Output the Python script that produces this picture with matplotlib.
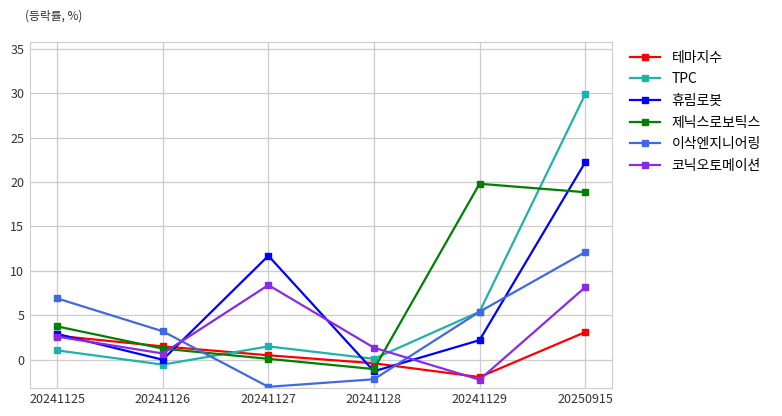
import matplotlib.pyplot as plt

plt.rcParams['font.family'] = ['Noto Sans CJK KR', 'DejaVu Sans']

# data
dates = ['20241125', '20241126', '20241127', '20241128', '20241129', '20250915']
theme = [2.7, 1.5, 0.5, -0.4, -1.95, 3.1]
tpc = [1.05, -0.55, 1.5, 0.1, 5.4, 29.85]
hurim = [2.9, 0.0, 11.7, -1.3, 2.2, 22.2]
zenix = [3.75, 1.25, 0.1, -1.05, 19.8, 18.85]
isak = [6.9, 3.2, -3.05, -2.2, 5.4, 12.1]
konic = [2.6, 0.7, 8.4, 1.35, -2.25, 8.15]

names = ['테마지수', 'TPC', '휴림로봇', '제닉스로보틱스', '이삭엔지니어링', '코닉오토메이션']
series = [theme, tpc, hurim, zenix, isak, konic]
colors = ['red', 'lightseagreen', 'blue', 'green', 'royalblue', 'blueviolet']

fig, ax = plt.subplots(figsize=(7.82, 4.16), dpi=100)
fig.subplots_adjust(left=0.038, right=0.782, top=0.9, bottom=0.068)

x = range(len(dates))
for name, vals, c in zip(names, series, colors):
    ax.plot(x, vals, color=c, marker='s', markersize=4.5, linewidth=1.6, label=name)

ax.set_xticks(list(x))
ax.set_xticklabels(dates)
ax.set_xlim(-0.26, 5.25)
ax.set_ylim(-3.15, 35.8)
ax.set_yticks([0, 5, 10, 15, 20, 25, 30, 35])

ax.grid(True, color='#cccccc', linewidth=0.9)
ax.set_axisbelow(True)
for sp in ax.spines.values():
    sp.set_color('#cccccc')
ax.tick_params(length=0, labelsize=9, colors='#333333', pad=4)

ax.legend(loc='upper left', bbox_to_anchor=(1.01, 1.01), frameon=False, fontsize=10,
          handlelength=2.2, labelspacing=0.55)

fig.text(0.032, 0.962, '(등락률, %)', fontsize=8.5, color='#333333', ha='left', va='center')

plt.savefig('out.png', dpi=100)
